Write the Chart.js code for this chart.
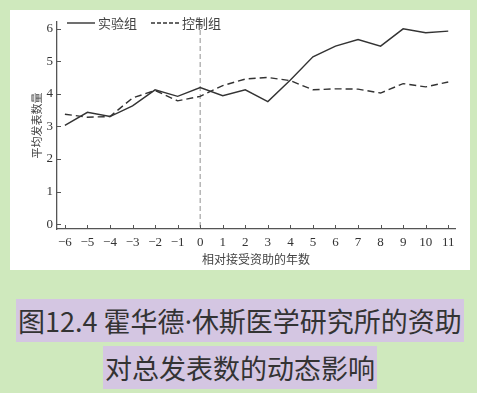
<!DOCTYPE html>
<html lang="zh-CN">
<head>
<meta charset="utf-8">
<script src="https://cdn.jsdelivr.net/npm/chart.js@4/dist/chart.umd.min.js"></script>
<style>
  html, body { margin: 0; padding: 0; }
  body { width: 477px; height: 393px; background: #cfe9bd; position: relative; overflow: hidden; font-family: "Noto Sans CJK SC", sans-serif; }
  #box { position: absolute; left: 10px; top: 10px; width: 460px; height: 260px; background: #fff; }
  .cap { position: absolute; left: 0; width: 480px; text-align: center; }
  .cap span.line { display: inline-block; background: #d4c6e2; color: #333; font-size: 27px; height: 43px; line-height: 43px; padding: 0 2px; white-space: nowrap; }
  .dot { font-family: "Noto Sans", sans-serif; }
</style>
</head>
<body>
<div id="box"><canvas id="chart" width="460" height="260"></canvas></div>
<div class="cap" style="top:299px"><span class="line" id="cap1"></span></div>
<div class="cap" style="top:346px"><span class="line" id="cap2"></span></div>

<script>
// data
const years = [-6, -5, -4, -3, -2, -1, 0, 1, 2, 3, 4, 5, 6, 7, 8, 9, 10, 11];
const treatment = [3.03, 3.43, 3.30, 3.63, 4.12, 3.92, 4.19, 3.94, 4.12, 3.76, 4.42, 5.13, 5.46, 5.66, 5.46, 5.99, 5.87, 5.92];
const control = [3.37, 3.28, 3.30, 3.87, 4.10, 3.78, 3.92, 4.25, 4.45, 4.50, 4.40, 4.12, 4.15, 4.14, 4.02, 4.31, 4.21, 4.36];
const yTicks = [0, 1, 2, 3, 4, 5, 6];
const seriesNames = ['实验组', '控制组'];
const xTitle = '相对接受资助的年数';
const yTitle = '平均发表数量';
const captionLines = ['图12.4 霍华德·休斯医学研究所的资助', '对总发表数的动态影响'];

// caption: the middle dot is set in a latin font so it stays narrow
captionLines.forEach((line, i) => {
    const el = document.getElementById('cap' + (i + 1));
    line.split('·').forEach((part, j) => {
        if (j > 0) {
            const d = document.createElement('span');
            d.className = 'dot';
            d.textContent = '·';
            el.appendChild(d);
        }
        el.appendChild(document.createTextNode(part));
    });
});

const axisColor = '#555';
const tickFont = { family: '"Liberation Serif", "DejaVu Serif", serif', size: 13 };
const cjkFont = { family: '"Noto Sans CJK SC", sans-serif', size: 11 };

// inward tick marks, dashed marker at year 0, and the in-plot legend
const overlay = {
    id: 'overlay',
    beforeDatasetsDraw(chart) {
        const { ctx, chartArea, scales } = chart;
        const x0 = scales.x.getPixelForValue(0);
        ctx.save();
        ctx.strokeStyle = '#aaa';
        ctx.lineWidth = 1.3;
        ctx.setLineDash([5, 3]);
        ctx.beginPath();
        ctx.moveTo(x0, chartArea.top);
        ctx.lineTo(x0, chartArea.bottom);
        ctx.stroke();
        ctx.restore();
    },
    afterDraw(chart) {
        const { ctx, chartArea, scales } = chart;
        ctx.save();
        ctx.strokeStyle = axisColor;
        ctx.lineWidth = 1;
        ctx.beginPath();
        scales.x.ticks.forEach(t => {
            const px = Math.round(scales.x.getPixelForValue(t.value)) + 0.5;
            ctx.moveTo(px, chartArea.bottom);
            ctx.lineTo(px, chartArea.bottom - 4);
        });
        scales.y.ticks.forEach(t => {
            const py = Math.round(scales.y.getPixelForValue(t.value)) + 0.5;
            ctx.moveTo(chartArea.left, py);
            ctx.lineTo(chartArea.left + 4, py);
        });
        ctx.stroke();

        // legend
        let x = chartArea.left + 10;
        const y = chartArea.top + 1;
        ctx.font = '13px "Noto Sans CJK SC", sans-serif';
        ctx.textBaseline = 'middle';
        chart.data.datasets.forEach(ds => {
            ctx.strokeStyle = ds.borderColor;
            ctx.lineWidth = ds.borderWidth;
            ctx.setLineDash(ds.legendDash);
            ctx.beginPath();
            ctx.moveTo(x, y);
            ctx.lineTo(x + 28, y);
            ctx.stroke();
            ctx.fillStyle = '#444';
            ctx.fillText(ds.label, x + 31, y);
            x += 31 + ctx.measureText(ds.label).width + 14;
        });
        ctx.restore();
    }
};

const toPoints = vals => years.map((x, i) => ({ x: x, y: vals[i] }));

new Chart(document.getElementById('chart'), {
    type: 'line',
    data: {
        datasets: [
            {
                label: seriesNames[0],
                data: toPoints(treatment),
                borderColor: '#333',
                borderWidth: 1.4,
                borderDash: [],
                legendDash: [],
                pointRadius: 0,
                tension: 0
            },
            {
                label: seriesNames[1],
                data: toPoints(control),
                borderColor: '#333',
                borderWidth: 1.4,
                borderDash: [7, 4],
                legendDash: [4, 2],
                pointRadius: 0,
                tension: 0
            }
        ]
    },
    options: {
        responsive: false,
        animation: false,
        layout: { padding: { left: 20, right: 15, top: 12, bottom: 0 } },
        plugins: {
            legend: { display: false },
            tooltip: { enabled: false }
        },
        scales: {
            x: {
                type: 'linear',
                min: -6.35,
                max: 11.3,
                grid: { display: false, drawTicks: false },
                border: { color: axisColor, width: 1.3 },
                afterBuildTicks: s => { s.ticks = years.map(v => ({ value: v })); },
                afterFit: s => { s.height = 41; },
                ticks: {
                    autoSkip: false,
                    maxRotation: 0,
                    padding: 6,
                    color: '#333',
                    font: tickFont,
                    callback: v => v < 0 ? '\u2212' + Math.abs(v) : String(v)
                },
                title: { display: true, text: xTitle, color: '#444', font: { family: cjkFont.family, size: 12 }, padding: { top: 0, bottom: 3 } }
            },
            y: {
                type: 'linear',
                min: -0.15,
                max: 6.2,
                grid: { display: false, drawTicks: false },
                border: { color: axisColor, width: 1.3 },
                afterBuildTicks: s => { s.ticks = yTicks.map(v => ({ value: v })); },
                afterFit: s => { s.width = 27; },
                ticks: { padding: 4, color: '#333', font: tickFont },
                title: { display: true, text: yTitle, color: '#444', font: cjkFont, padding: { top: 0, bottom: 4 } }
            }
        }
    },
    plugins: [overlay]
});
</script>
</body>
</html>
